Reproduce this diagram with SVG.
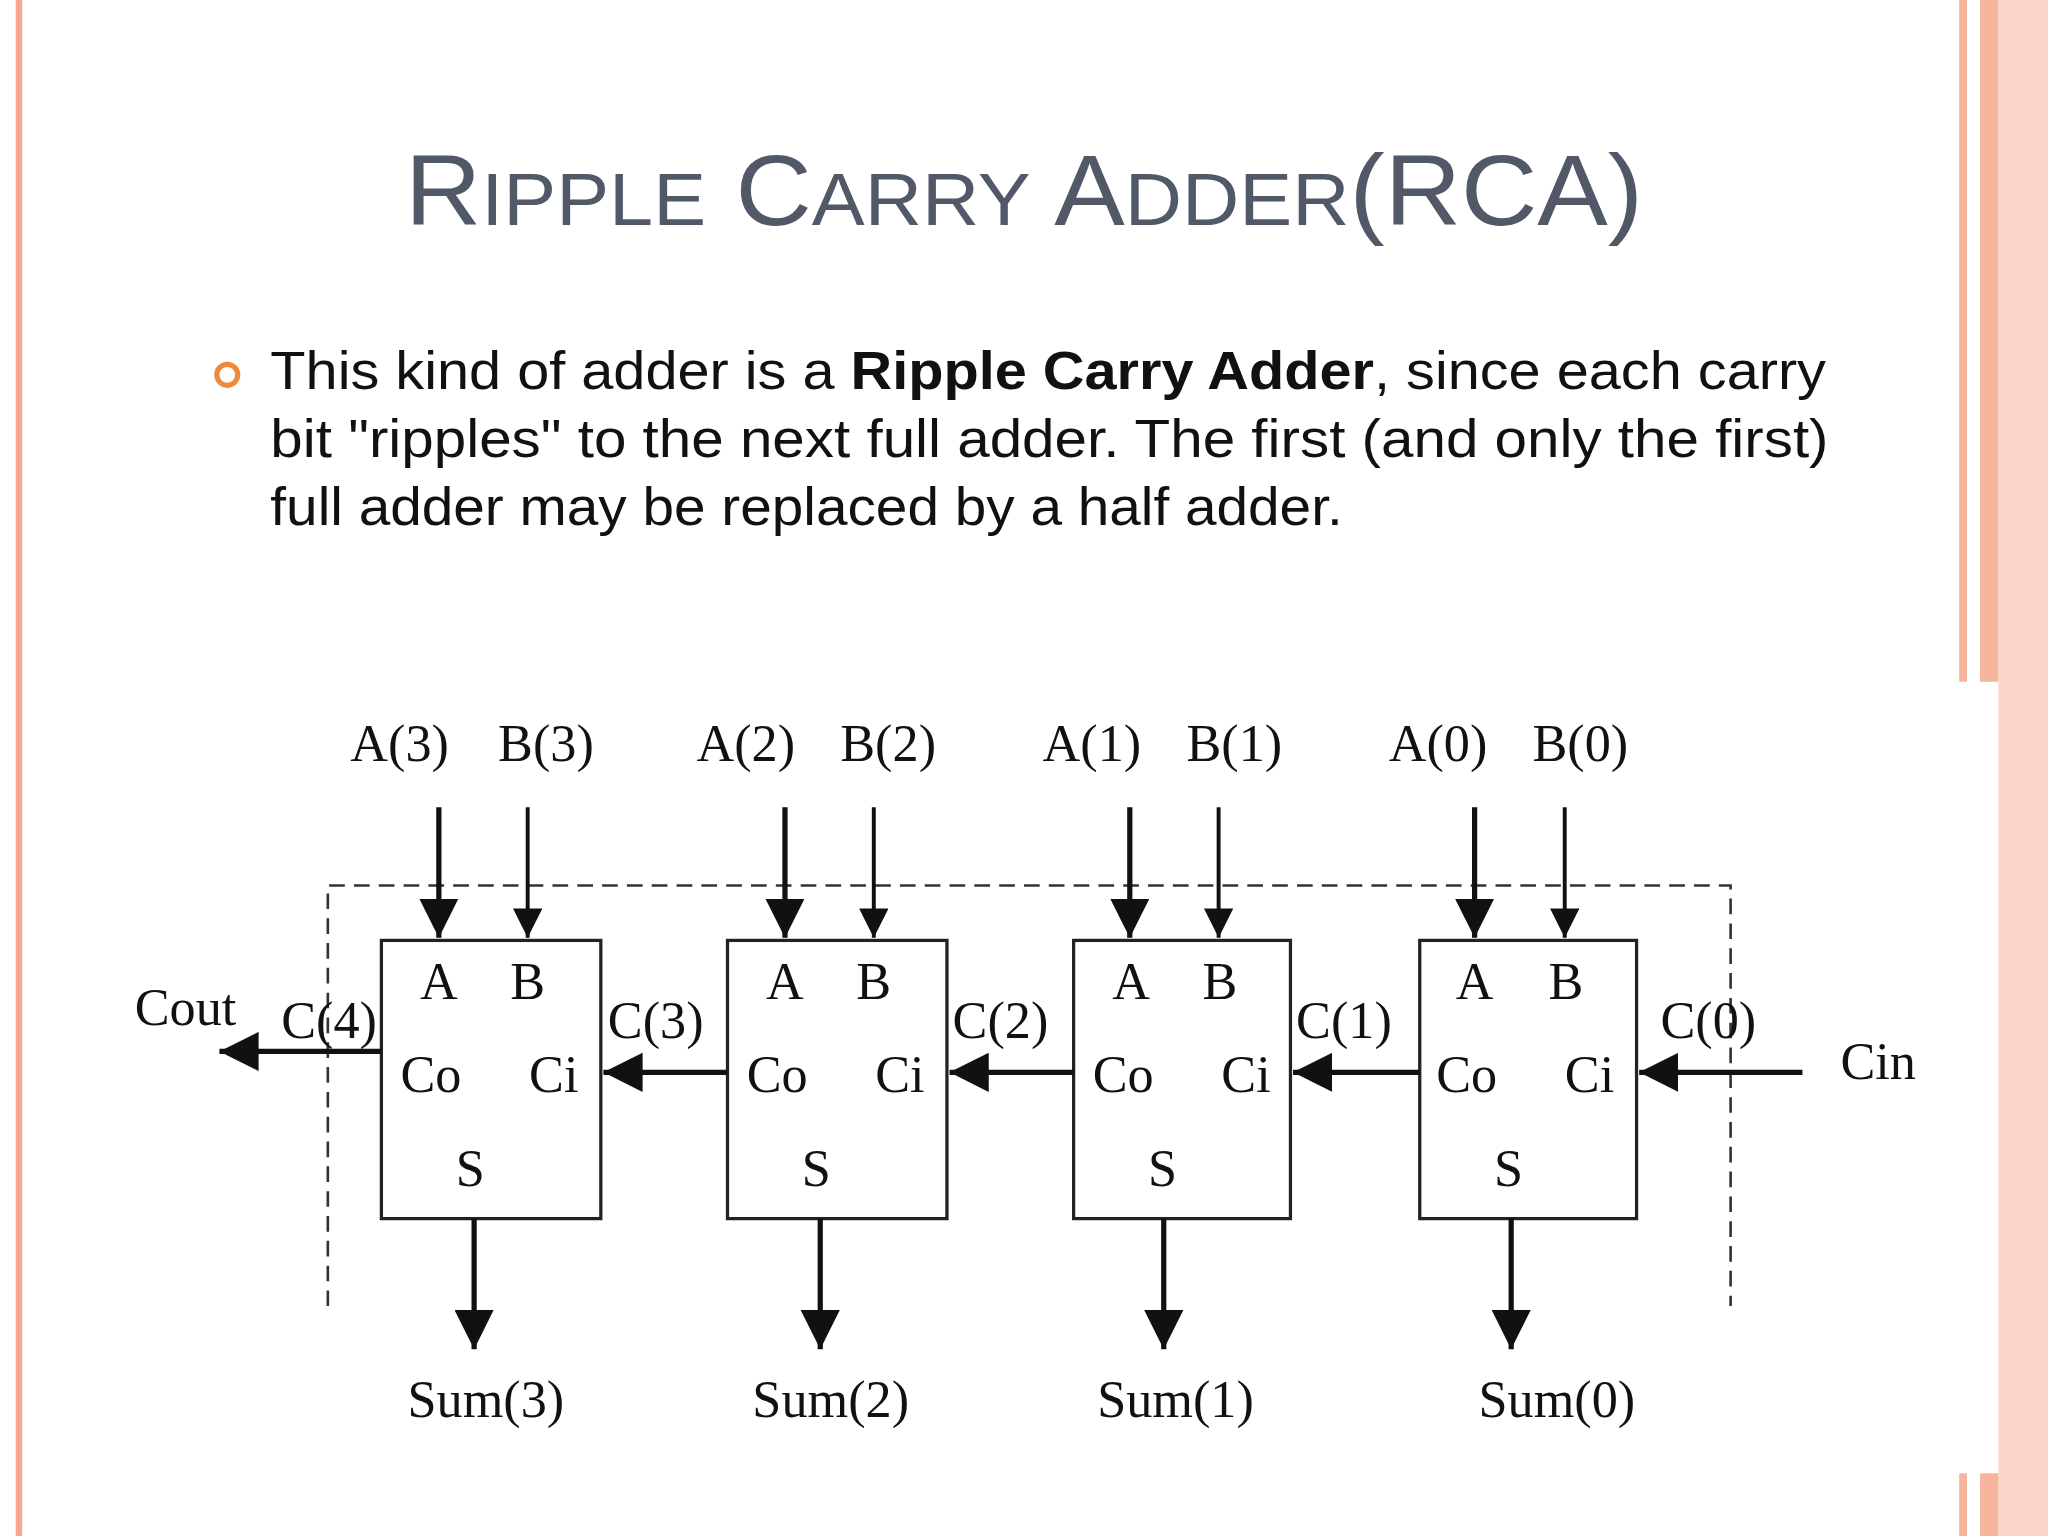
<svg xmlns="http://www.w3.org/2000/svg" width="2048" height="1536" viewBox="0 0 2048 1536">
<defs>
<style>
.t{font-family:"Liberation Serif",serif;font-size:40px;fill:#111;text-anchor:middle}
.b{fill:#fff;stroke:#222;stroke-width:2.5}
.w{stroke:#111;stroke-width:4;fill:none}
.n{stroke:#111;stroke-width:3;fill:none}
.p{font-family:"Liberation Sans",sans-serif;font-size:41px;fill:#111}
</style>
<marker id="ah2" viewBox="0 0 10 10" refX="10" refY="5" markerWidth="7.5" markerHeight="7.5" orient="auto"><path d="M0,0L10,5L0,10z" fill="#111"/></marker>
</defs>
<rect width="2048" height="1536" fill="#fff"/>
<g transform="scale(1.30612)">
<rect x="12" y="0" width="5" height="1176" fill="#f6a88e"/>
<rect x="1500" y="0" width="6" height="522" fill="#f7b49c"/>
<rect x="1516" y="0" width="14" height="522" fill="#f7b49c"/>
<rect x="1530" y="0" width="38" height="1176" fill="#fbd6c8"/>
<rect x="1500" y="1128" width="6" height="48" fill="#f7b49c"/>
<rect x="1516" y="1128" width="14" height="48" fill="#f7b49c"/>
<text x="310" y="172" textLength="948" lengthAdjust="spacingAndGlyphs" font-family="Liberation Sans,sans-serif" fill="#515868" font-size="76">R<tspan font-size="57">IPPLE</tspan> C<tspan font-size="57">ARRY</tspan> A<tspan font-size="57">DDER</tspan>(RCA)</text>
<circle cx="174" cy="287" r="8" fill="none" stroke="#ee8a3c" stroke-width="4"/>
<text class="p" x="207" y="298" textLength="1191" lengthAdjust="spacingAndGlyphs">This kind of adder is a <tspan font-weight="bold">Ripple Carry Adder</tspan>, since each carry</text>
<text class="p" x="207" y="350" textLength="1193" lengthAdjust="spacingAndGlyphs">bit "ripples" to the next full adder. The first (and only the first)</text>
<text class="p" x="207" y="402" textLength="821" lengthAdjust="spacingAndGlyphs">full adder may be replaced by a half adder.</text>
<path d="M251,1000V678H1325V1000" fill="none" stroke="#333" stroke-width="2" stroke-dasharray="12,7"/>
<g id="fa3"><rect class="b" x="292" y="720" width="168" height="213"/><text class="t" x="336" y="765">A</text><text class="t" x="404" y="765">B</text><text class="t" x="330" y="836">Co</text><text class="t" x="424" y="836">Ci</text><text class="t" x="360" y="908">S</text></g>
<g id="fa2"><rect class="b" x="557" y="720" width="168" height="213"/><text class="t" x="601" y="765">A</text><text class="t" x="669" y="765">B</text><text class="t" x="595" y="836">Co</text><text class="t" x="689" y="836">Ci</text><text class="t" x="625" y="908">S</text></g>
<g id="fa1"><rect class="b" x="822" y="720" width="166" height="213"/><text class="t" x="866" y="765">A</text><text class="t" x="934" y="765">B</text><text class="t" x="860" y="836">Co</text><text class="t" x="954" y="836">Ci</text><text class="t" x="890" y="908">S</text></g>
<g id="fa0"><rect class="b" x="1087" y="720" width="166" height="213"/><text class="t" x="1129" y="765">A</text><text class="t" x="1199" y="765">B</text><text class="t" x="1123" y="836">Co</text><text class="t" x="1217" y="836">Ci</text><text class="t" x="1155" y="908">S</text></g>
<g id="labels">
<text class="t" x="306" y="583">A(3)</text><text class="t" x="418" y="583">B(3)</text>
<text class="t" x="571" y="583">A(2)</text><text class="t" x="680" y="583">B(2)</text>
<text class="t" x="836" y="583">A(1)</text><text class="t" x="945" y="583">B(1)</text>
<text class="t" x="1101" y="583">A(0)</text><text class="t" x="1210" y="583">B(0)</text>
<text class="t" x="142" y="785">Cout</text><text class="t" x="252" y="795">C(4)</text>
<text class="t" x="502" y="795">C(3)</text><text class="t" x="766" y="795">C(2)</text>
<text class="t" x="1029" y="795">C(1)</text><text class="t" x="1308" y="795">C(0)</text>
<text class="t" x="1438" y="826">Cin</text>
<text class="t" x="372" y="1085">Sum(3)</text><text class="t" x="636" y="1085">Sum(2)</text>
<text class="t" x="900" y="1085">Sum(1)</text><text class="t" x="1192" y="1085">Sum(0)</text>
</g>
<g id="connectors">
<g class="w" marker-end="url(#ah2)">
<path d="M336,618V718"/><path d="M601,618V718"/><path d="M865,618V718"/><path d="M1129,618V718"/>
<path d="M363,933V1033"/><path d="M628,933V1033"/><path d="M891,933V1033"/><path d="M1157,933V1033"/>
<path d="M557,821H462"/><path d="M822,821H727"/><path d="M1087,821H990"/><path d="M1380,821H1255"/>
<path d="M292,805H168"/>
</g>
<g class="n" marker-end="url(#ah2)">
<path d="M404,618V718"/><path d="M669,618V718"/><path d="M933,618V718"/><path d="M1198,618V718"/>
</g>
</g>
</g>
</svg>
